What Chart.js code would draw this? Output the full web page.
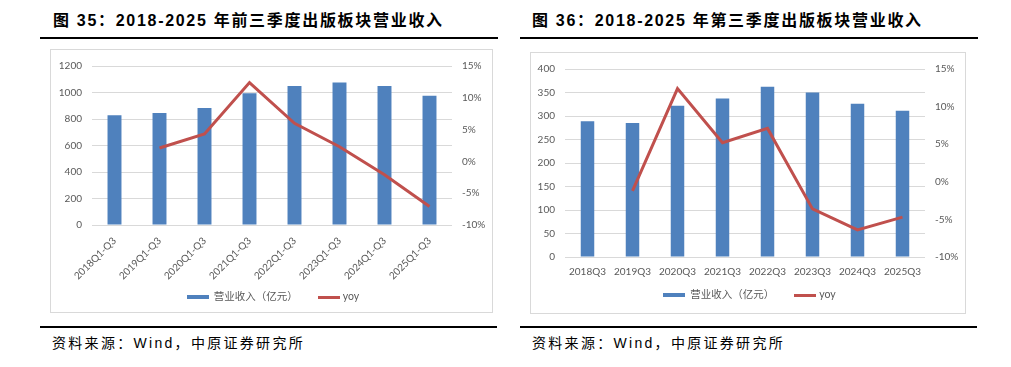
<!DOCTYPE html>
<html><head><meta charset="utf-8">
<script src="https://cdn.jsdelivr.net/npm/chart.js@4.4.1/dist/chart.umd.min.js"></script>
<style>
body{margin:0;background:#fff;width:1011px;height:367px;position:relative;overflow:hidden;font-family:"Liberation Sans","Noto Sans CJK SC",sans-serif;}
.title{position:absolute;top:11px;line-height:20px;font-weight:bold;font-size:16px;letter-spacing:1.7px;color:#000;white-space:nowrap;}
.rule{position:absolute;height:2px;background:#000;}
.box{position:absolute;border:1px solid #d9d9d9;box-sizing:border-box;}
.box canvas{position:absolute;left:0;top:0;}
.src{position:absolute;top:333px;line-height:20px;font-size:14px;letter-spacing:2.3px;color:#000;white-space:nowrap;}
</style></head>
<body>
<div class="title" style="left:53px">图 35：2018-2025 年前三季度出版板块营业收入</div>
<div class="rule" style="left:40px;top:37px;width:458px"></div>
<div class="box" style="left:50px;top:49px;width:443px;height:264px"><canvas id="c1" width="441" height="262"></canvas></div>
<div class="rule" style="left:40px;top:326px;width:457px"></div>
<div class="src" style="left:52px">资料来源：Wind，中原证券研究所</div>

<div class="title" style="left:532px">图 36：2018-2025 年第三季度出版板块营业收入</div>
<div class="rule" style="left:520px;top:37px;width:458px"></div>
<div class="box" style="left:530px;top:52px;width:436px;height:262px"><canvas id="c2" width="434" height="260"></canvas></div>
<div class="rule" style="left:520px;top:326px;width:457px"></div>
<div class="src" style="left:532px">资料来源：Wind，中原证券研究所</div>

<script>
// ---- data ----
const categories1 = ['2018Q1-Q3','2019Q1-Q3','2020Q1-Q3','2021Q1-Q3','2022Q1-Q3','2023Q1-Q3','2024Q1-Q3','2025Q1-Q3'];
const revenue1 = [829, 846, 883, 995, 1049, 1076, 1049, 975];
const yoy1 = [null, 2.1, 4.3, 12.4, 6.0, 2.3, -2.1, -7.1];

const categories2 = ['2018Q3','2019Q3','2020Q3','2021Q3','2022Q3','2023Q3','2024Q3','2025Q3'];
const revenue2 = [289, 285, 322, 337, 362, 350, 326, 311];
const yoy2 = [null, -1.2, 12.4, 5.2, 7.1, -3.6, -6.4, -4.7];

const seriesNames = ['营业收入（亿元）', 'yoy'];
const leftAxis1 = {min: 0, max: 1200, step: 200};
const leftAxis2 = {min: 0, max: 400, step: 50};
const pctAxis = {min: -10, max: 15, step: 5};

// ---- styles ----
const BLUE = '#4F81BD', RED = '#C0504D', GRID = '#d9d9d9', TXT = '#595959';
const FONT = "Lato, 'Noto Sans CJK SC', sans-serif";
Chart.defaults.font.family = FONT;
Chart.defaults.color = TXT;

function makeChart(id, cats, rev, yoy, leftAxis, L) {
  // legend drawn from the chart's own datasets
  const refLegend = {
    id: 'refLegend',
    afterDraw(chart) {
      const ctx = chart.ctx;
      ctx.save();
      ctx.font = '10.5px ' + FONT;
      ctx.textBaseline = 'middle';
      ctx.textAlign = 'left';
      const items = chart.data.datasets.map(ds => {
        const isLine = ds.type === 'line';
        return {text: ds.label, color: isLine ? ds.borderColor : ds.backgroundColor,
                h: isLine ? 3 : 4, gap: isLine ? 3 : 5, w: ctx.measureText(ds.label).width};
      });
      const BW = 22, SEP = 20;
      let total = 0;
      items.forEach((it, i) => { total += BW + it.gap + it.w + (i ? SEP : 0); });
      let x = chart.width / 2 + L.legDx - total / 2;
      const y = L.legY;
      items.forEach(it => {
        ctx.fillStyle = it.color;
        ctx.fillRect(Math.round(x), Math.round(y - it.h / 2), BW, it.h);
        x += BW + it.gap;
        ctx.fillStyle = TXT;
        ctx.fillText(it.text, x, y);
        x += it.w + SEP;
      });
      ctx.restore();
    }
  };
  return new Chart(document.getElementById(id), {
    type: 'bar',
    plugins: [refLegend],
    data: {
      labels: cats,
      datasets: [
        {label: seriesNames[0], data: rev, backgroundColor: BLUE, borderWidth: 0,
         categoryPercentage: 1, barPercentage: L.bar, yAxisID: 'y', order: 1},
        {type: 'line', label: seriesNames[1], data: yoy, borderColor: RED, backgroundColor: RED,
         borderWidth: 3, pointRadius: 0, tension: 0, yAxisID: 'y1', order: 0}
      ]
    },
    options: {
      responsive: false, animation: false, devicePixelRatio: 1,
      layout: {padding: {left: 0, top: L.top, right: 0, bottom: 0}},
      plugins: {
        tooltip: {enabled: false},
        legend: {display: false}
      },
      scales: {
        x: {
          grid: {display: false, drawTicks: false}, border: {display: false},
          ticks: {autoSkip: false, minRotation: L.rot, maxRotation: L.rot, padding: L.xPad, font: {size: 10}},
          afterFit(s) { s.height = L.xH; }
        },
        y: {
          position: 'left', min: leftAxis.min, max: leftAxis.max,
          grid: {color: GRID, drawTicks: false}, border: {display: false},
          ticks: {stepSize: leftAxis.step, padding: 10, font: {size: 10}, callback: v => String(v)},
          afterFit(s) { s.width = L.yW; }
        },
        y1: {
          position: 'right', min: pctAxis.min, max: pctAxis.max,
          grid: {display: false, drawTicks: false}, border: {display: false},
          ticks: {stepSize: pctAxis.step, padding: 10, font: {size: 10}, callback: v => v + '%'},
          afterFit(s) { s.width = L.y1W; }
        }
      }
    }
  });
}

makeChart('c1', categories1, revenue1, yoy1, leftAxis1,
  {top: 13, yW: 41, y1W: 40, xH: 87, rot: 45, xPad: 10, bar: 0.31, legY: 247, legDx: 1.5});
makeChart('c2', categories2, revenue2, yoy2, leftAxis2,
  {top: 13, yW: 34, y1W: 40, xH: 56, rot: 0, xPad: 9, bar: 0.30, legY: 242, legDx: 1.5});
</script>
</body></html>
